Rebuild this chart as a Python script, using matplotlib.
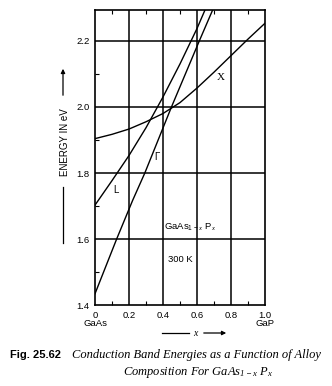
import matplotlib.pyplot as plt
from matplotlib.patches import FancyArrowPatch
from matplotlib.ticker import MultipleLocator

plt.rcParams['mathtext.fontset'] = 'custom'
plt.rcParams['mathtext.rm'] = 'Liberation Serif:italic'
plt.rcParams['mathtext.it'] = 'Liberation Serif:italic'
plt.rcParams['mathtext.sf'] = 'Liberation Sans'

# conduction band minima of GaAs(1-x)P(x) at 300 K, read as (x, energy in eV)
gamma_x = [0.0, 0.127, 0.222, 0.293, 0.45, 0.614, 0.692]
gamma_e = [1.435, 1.60, 1.718, 1.80, 2.00, 2.20, 2.293]

l_x = [0.0, 0.1, 0.2, 0.3, 0.4, 0.5, 0.6, 0.647]
l_e = [1.703, 1.777, 1.853, 1.937, 2.03, 2.13, 2.237, 2.293]

xv_x = [0.0, 0.1, 0.2, 0.3, 0.4, 0.5, 0.6, 0.7, 0.8, 0.9, 1.0]
xv_e = [1.904, 1.917, 1.933, 1.955, 1.98, 2.013, 2.057, 2.105, 2.155, 2.205, 2.253]

x_ticks = [0, 0.2, 0.4, 0.6, 0.8, 1.0]
x_ticklabels = ['0', '0.2', '0.4', '0.6', '0.8', '1.0']
y_ticks = [1.4, 1.6, 1.8, 2.0, 2.2]

sans = 'Liberation Sans'
serif = 'Liberation Serif'

fig = plt.figure(figsize=(3.32, 3.86), dpi=100)
ax = fig.add_axes([95 / 332, 1 - 305.3 / 386, 170 / 332, 295.3 / 386])

for xs, es in [(gamma_x, gamma_e), (l_x, l_e), (xv_x, xv_e)]:
    ax.plot(xs, es, color='black', lw=1.0, solid_joinstyle='round')

ax.set_xlim(0, 1.0)
ax.set_ylim(1.4, 2.293)

for v in x_ticks[1:-1]:
    ax.axvline(v, color='black', lw=1.1)
for v in y_ticks[1:]:
    ax.axhline(v, color='black', lw=1.1)

ax.set_xticks(x_ticks)
ax.set_xticklabels(x_ticklabels)
ax.set_yticks(y_ticks)
ax.set_yticklabels(['%.1f' % v for v in y_ticks])
ax.xaxis.set_minor_locator(MultipleLocator(0.1))
ax.yaxis.set_minor_locator(MultipleLocator(0.1))
ax.tick_params(which='major', length=0, labelsize=6.8, pad=4)
ax.tick_params(which='minor', direction='in', length=3, width=0.8,
               top=True, bottom=True, left=True, right=False)
for lab in ax.get_xticklabels() + ax.get_yticklabels():
    lab.set_fontfamily(sans)
for sp in ax.spines.values():
    sp.set_linewidth(1.2)

# curve labels and annotations
ax.text(0.741, 2.09, 'X', fontsize=8, family=serif, ha='center', va='center')
ax.text(0.366, 1.847, 'Γ', fontsize=7, family=sans, ha='center', va='center')
ax.text(0.124, 1.75, 'L', fontsize=7, family=sans, ha='center', va='center')
ax.text(0.56, 1.637, r'GaAs$_{\mathsf{1\,-}\,x}$ P$_x$', fontsize=6.8,
        family=sans, ha='center', va='center')
ax.text(0.5, 1.539, '300 K', fontsize=6.8, family=sans, ha='center', va='center')

# composition end members under the axis
fig.text(95 / 332, 1 - 323 / 386, 'GaAs', fontsize=6.8, family=sans,
         ha='center', va='center')
fig.text(265 / 332, 1 - 323 / 386, 'GaP', fontsize=6.8, family=sans,
         ha='center', va='center')

# x axis label with arrow
fig.text(195 / 332, 1 - 333 / 386, 'x', fontsize=7, family=serif,
         style='italic', ha='center', va='center')
fig.add_artist(plt.Line2D([162 / 332, 189 / 332], [1 - 333 / 386] * 2,
                          color='black', lw=0.9))
fig.add_artist(FancyArrowPatch(
    (201 / 332, 1 - 333 / 386), (229 / 332, 1 - 333 / 386),
    transform=fig.transFigure, arrowstyle='-|>', mutation_scale=6,
    color='black', lw=0.9))

# y axis label with arrow
fig.text(65 / 332, 1 - 142 / 386, 'ENERGY IN eV', fontsize=7, family=sans,
         rotation=90, ha='center', va='center')
fig.add_artist(FancyArrowPatch(
    (63 / 332, 1 - 98 / 386), (63 / 332, 1 - 66 / 386),
    transform=fig.transFigure, arrowstyle='-|>', mutation_scale=6,
    color='black', lw=0.9))
fig.add_artist(plt.Line2D([63 / 332] * 2, [1 - 187 / 386, 1 - 243 / 386],
                          color='black', lw=0.9))

# caption
fig.text(10 / 332, 1 - 355 / 386, 'Fig. 25.62', fontsize=8, family=sans,
         weight='bold', ha='left', va='center')
fig.text(72 / 332, 1 - 355 / 386, 'Conduction Band Energies as a Function of Alloy',
         fontsize=9, family=serif, style='italic', ha='left', va='center')
fig.text(198 / 332, 1 - 372 / 386,
         r'Composition For GaAs$_{1-x}$ P$_x$',
         fontsize=9, family=serif, style='italic', ha='center', va='center')

fig.savefig('out.png', dpi=100)
